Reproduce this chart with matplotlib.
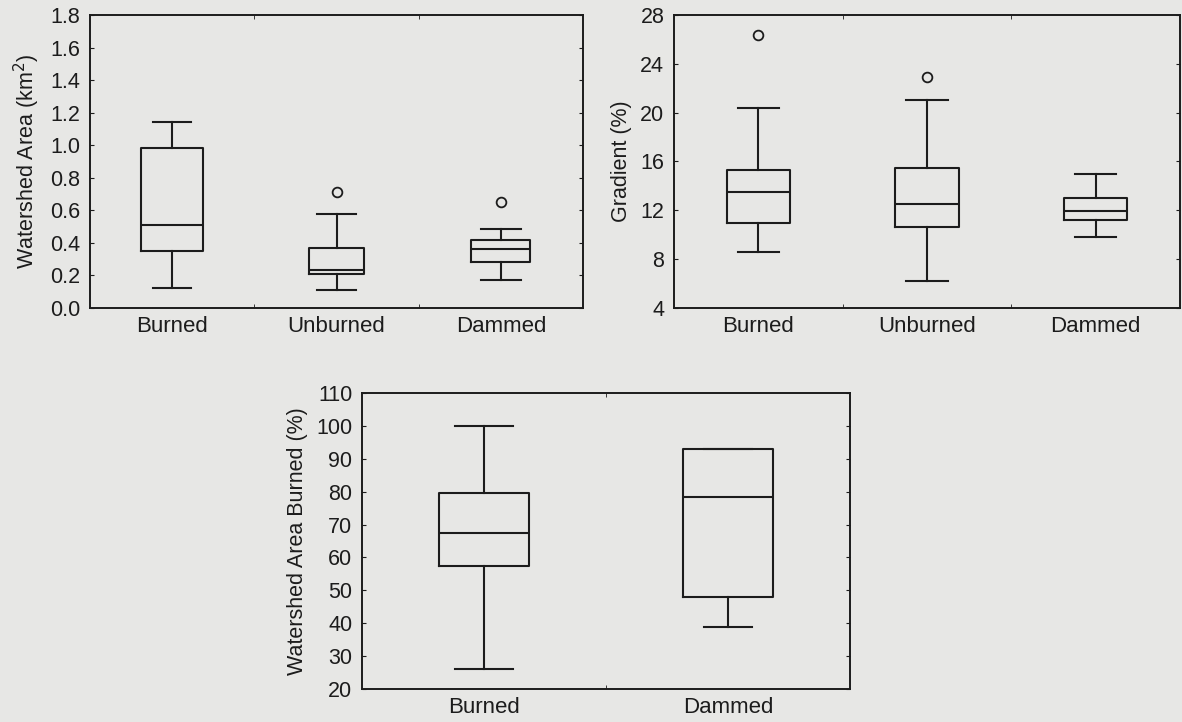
import matplotlib
matplotlib.use("Agg")
import matplotlib.pyplot as plt

plt.rcParams['font.family'] = ['Liberation Sans', 'DejaVu Sans']

# ---- data ----
area_groups = ["Burned", "Unburned", "Dammed"]
area_whislo = [0.12, 0.11, 0.17]
area_q1 = [0.35, 0.21, 0.28]
area_med = [0.51, 0.235, 0.36]
area_q3 = [0.98, 0.37, 0.415]
area_whishi = [1.14, 0.575, 0.485]
area_fliers = [[], [0.71], [0.65]]

grad_groups = ["Burned", "Unburned", "Dammed"]
grad_whislo = [8.6, 6.2, 9.8]
grad_q1 = [11.0, 10.6, 11.2]
grad_med = [13.5, 12.5, 11.95]
grad_q3 = [15.3, 15.5, 13.0]
grad_whishi = [20.4, 21.0, 15.0]
grad_fliers = [[26.4], [22.9], []]

burn_groups = ["Burned", "Dammed"]
burn_whislo = [26.0, 39.0]
burn_q1 = [57.5, 48.0]
burn_med = [67.5, 78.5]
burn_q3 = [79.5, 93.0]
burn_whishi = [100.0, 93.0]
burn_fliers = [[], []]

W, H = 1182, 722
BG = "#e7e7e5"
LC = "#1c1c1c"
TICK_FS = 15.5
CAT_FS = 16
LAB_FS = 15.5

fig = plt.figure(figsize=(W / 100, H / 100), dpi=100, facecolor=BG)


def make_stats(labels, lo, q1, med, q3, hi, fl):
    return [dict(label=l, whislo=a, q1=b, med=c, q3=d, whishi=e, fliers=f)
            for l, a, b, c, d, e, f in zip(labels, lo, q1, med, q3, hi, fl)]


def panel(rect, stats, widths, ylim, yticks, ylabel, capw, fmt):
    ax = fig.add_axes(rect)
    ax.set_facecolor(BG)
    n = len(stats)
    pos = list(range(1, n + 1))
    lp = dict(color=LC, linewidth=1.5)
    ax.bxp(stats, positions=pos, widths=widths, capwidths=capw,
           boxprops=lp, medianprops=lp, whiskerprops=lp, capprops=lp,
           flierprops=dict(marker='o', markersize=7, markerfacecolor='none',
                           markeredgecolor=LC, markeredgewidth=1.3),
           showfliers=True, manage_ticks=False)
    ax.set_xlim(0.5, n + 0.5)
    ax.set_ylim(*ylim)
    ax.set_yticks(yticks)
    ax.set_yticklabels([fmt.format(t) for t in yticks])
    ax.set_xticks(pos)
    ax.set_xticklabels([s['label'] for s in stats])
    ax.tick_params(axis='x', length=0, labelsize=CAT_FS, pad=6, colors=LC)
    ax.set_xticks([p + 0.5 for p in pos[:-1]], minor=True)
    ax.tick_params(axis='x', which='minor', direction='in', length=3,
                   top=True, bottom=True, color=LC)
    ax.tick_params(axis='y', direction='in', length=3, right=True,
                   labelsize=TICK_FS, pad=7, colors=LC)
    for sp in ax.spines.values():
        sp.set_color(LC)
        sp.set_linewidth(1.4)
    ax.set_ylabel(ylabel, fontsize=LAB_FS, color=LC, labelpad=6)
    return ax


panel([90 / W, 1 - 308 / H, 493 / W, 293 / H],
      make_stats(area_groups, area_whislo, area_q1, area_med, area_q3, area_whishi, area_fliers),
      [0.38, 0.33, 0.36], (0.0, 1.8),
      [0.0, 0.2, 0.4, 0.6, 0.8, 1.0, 1.2, 1.4, 1.6, 1.8],
      r"Watershed Area (km$^2$)", [0.23, 0.24, 0.24], "{:.1f}")

panel([674 / W, 1 - 308 / H, 506 / W, 293 / H],
      make_stats(grad_groups, grad_whislo, grad_q1, grad_med, grad_q3, grad_whishi, grad_fliers),
      [0.375, 0.375, 0.375], (4, 28),
      [4, 8, 12, 16, 20, 24, 28],
      "Gradient (%)", [0.24, 0.245, 0.245], "{:d}")

panel([362 / W, 1 - 689 / H, 488 / W, 296 / H],
      make_stats(burn_groups, burn_whislo, burn_q1, burn_med, burn_q3, burn_whishi, burn_fliers),
      [0.37, 0.37], (20, 110),
      [20, 30, 40, 50, 60, 70, 80, 90, 100, 110],
      "Watershed Area Burned (%)", [0.24, 0.2], "{:d}")

fig.savefig("out.png", dpi=100, facecolor=BG)
